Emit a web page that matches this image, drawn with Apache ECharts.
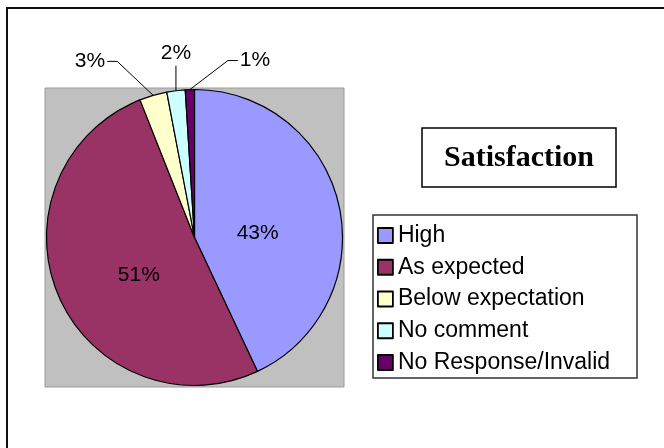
<!DOCTYPE html>
<html>
<head>
<meta charset="utf-8">
<script src="https://cdn.jsdelivr.net/npm/echarts@6/dist/echarts.min.js"></script>
<style>
html,body{margin:0;padding:0;background:#fff;}
#chart{width:664px;height:448px;}
</style>
</head>
<body>
<div id="chart"></div>
<script>
const categories = ['High', 'As expected', 'Below expectation', 'No comment', 'No Response/Invalid'];
const values = [43, 51, 3, 2, 1];
const chartTitle = 'Satisfaction';

const sliceColors = ['#9999FF', '#993366', '#FFFFCC', '#CCFFFF', '#660066'];
const center = [194.5, 237.5];
const radius = 148;
// label placement relative to the default label (inner) or the slice edge point (outer)
const labelPlacement = [
  {inner: true, dx: -12, dy: 13},
  {inner: true, dx: 15, dy: 7},
  {bend: [-36, -34], end: [-46, -34], text: [-48, -34], align: 'right'},
  {bend: [0, -25], end: [0, -25], text: [0, -37], align: 'center'},
  {bend: [38, -29], end: [48, -29], text: [50, -29], align: 'left'}
];

const total = values.reduce((a, b) => a + b, 0);
function edgePoint(i) {
  let before = 0;
  for (let k = 0; k < i; k++) before += values[k];
  const mid = (before + values[i] / 2) / total * 2 * Math.PI;
  return [center[0] + radius * Math.sin(mid), center[1] - radius * Math.cos(mid)];
}

const chart = echarts.init(document.getElementById('chart'), null, {renderer: 'canvas'});
const option = {
  backgroundColor: '#fff',
  animation: false,
  graphic: [
    {type: 'rect', shape: {x: 7, y: 8, width: 700, height: 500}, style: {fill: '#fff', stroke: '#111', lineWidth: 2}, z: -10},
    {type: 'rect', shape: {x: 45, y: 88, width: 299, height: 299}, style: {fill: '#C0C0C0', stroke: '#9a9a9a', lineWidth: 1}, z: -5},
    {type: 'rect', shape: {x: 422, y: 128, width: 194, height: 59}, style: {fill: '#fff', stroke: '#000', lineWidth: 1.5}, z: -5},
    {type: 'rect', shape: {x: 373, y: 215, width: 264, height: 163}, style: {fill: '#fff', stroke: '#333', lineWidth: 1.5}, z: -5},
    {type: 'text', x: 519, y: 158, style: {text: chartTitle, font: 'bold 30px "Liberation Serif", "Times New Roman", serif', fill: '#000', align: 'center', verticalAlign: 'middle'}, z: 5}
  ],
  legend: {
    orient: 'vertical',
    left: 377,
    top: 224,
    itemWidth: 15,
    itemHeight: 15,
    itemGap: 8.75,
    padding: 0,
    icon: 'rect',
    data: categories,
    itemStyle: {borderColor: '#000', borderWidth: 1.8},
    textStyle: {fontFamily: '"Liberation Sans", Arial, sans-serif', fontSize: 23, lineHeight: 23, color: '#000', padding: [0, 0, 0, 0]},
    selectedMode: false
  },
  series: [{
    type: 'pie',
    center: center,
    radius: radius,
    startAngle: 90,
    clockwise: true,
    avoidLabelOverlap: false,
    itemStyle: {borderColor: '#000', borderWidth: 1.2},
    label: {
      fontFamily: '"Liberation Sans", Arial, sans-serif',
      fontSize: 21,
      color: '#000',
      formatter: p => Math.round(p.percent) + '%'
    },
    labelLine: {lineStyle: {color: '#000', width: 1}},
    emphasis: {disabled: true},
    labelLayout: function (p) {
      const i = p.dataIndex;
      const o = labelPlacement[i];
      if (!o) return {};
      if (o.inner) {
        const cx = p.labelRect.x + p.labelRect.width / 2;
        const cy = p.labelRect.y + p.labelRect.height / 2;
        return {x: cx + o.dx, y: cy + o.dy, align: 'center', verticalAlign: 'middle'};
      }
      const p0 = edgePoint(i);
      return {
        x: p0[0] + o.text[0],
        y: p0[1] + o.text[1],
        align: o.align,
        verticalAlign: 'middle',
        labelLinePoints: [
          p0,
          [p0[0] + o.bend[0], p0[1] + o.bend[1]],
          [p0[0] + o.end[0], p0[1] + o.end[1]]
        ]
      };
    },
    data: categories.map((name, i) => ({
      name: name,
      value: values[i],
      itemStyle: {color: sliceColors[i]},
      label: {position: i < 2 ? 'inside' : 'outside'},
      labelLine: {show: i >= 2, length: 10, length2: 10}
    }))
  }]
};
chart.setOption(option);
</script>
</body>
</html>
